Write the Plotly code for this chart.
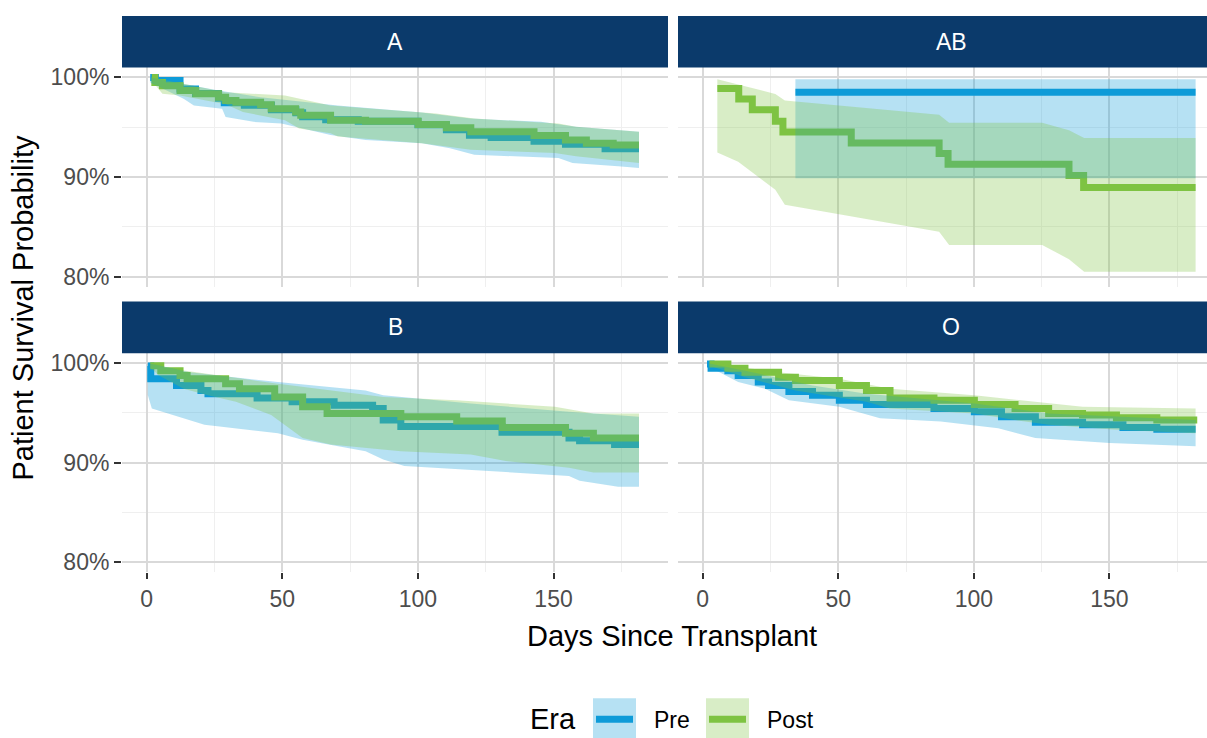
import plotly.graph_objects as go

# ---------------------------------------------------------------------------
# Kaplan-Meier survival (percent) by blood group and era, first 6 months
# ---------------------------------------------------------------------------
PANELS = ["A", "AB", "B", "O"]
ERAS = ["Pre", "Post"]
X_TICKS = [0, 50, 100, 150]
Y_TICKS = [80, 90, 100]
Y_TICK_LABELS = ["80%", "90%", "100%"]

# --- A ---------------------------------------------------------------------
A_PRE_DAYS = [1.3, 3.2, 12.3, 18.0, 26.5, 28.6, 36.0, 46.0, 55.0, 57.5, 66.0, 78.0,
              100.0, 110.5, 119.0, 127.0, 142.8, 154.4, 169.0, 181.5]
A_PRE_SURV = [100.0, 99.7, 98.85, 98.4, 97.9, 97.45, 97.2, 96.75, 96.45, 96.05, 95.75, 95.6,
              95.25, 94.75, 94.2, 93.96, 93.6, 93.3, 92.85, 92.85]
A_POST_DAYS = [1.9, 3.0, 5.8, 12.3, 18.1, 26.5, 29.1, 32.9, 42.0, 45.9, 54.9, 56.8, 67.8,
               80.7, 100.1, 110.5, 119.5, 142.8, 154.4, 162.1, 172.0, 181.5]
A_POST_SURV = [100.0, 99.5, 99.17, 98.68, 98.35, 98.02, 97.69, 97.52, 97.26, 96.86, 96.53, 96.2,
               95.71, 95.61, 95.28, 94.95, 94.55, 94.16, 93.73, 93.4, 93.23, 93.23]
A_PRE_UP_DAYS = [1.3, 12.3, 26.5, 42.0, 49.7, 70.4, 101.4, 119.5, 145.3, 158.3, 181.5]
A_PRE_UP = [100.0, 99.44, 98.68, 98.02, 97.79, 97.19, 96.47, 95.87, 95.54, 95.05, 94.55]
A_PRE_LO_DAYS = [1.3, 13.6, 17.4, 27.8, 29.1, 39.4, 49.7, 57.5, 67.8, 80.7, 101.4, 111.8,
                 120.8, 151.8, 157.0, 173.8, 181.5]
A_PRE_LO = [99.5, 97.85, 97.19, 96.86, 96.04, 95.54, 95.38, 94.88, 94.22, 93.73, 93.4, 92.9,
            92.24, 91.91, 91.42, 91.09, 90.92]
A_POST_UP_DAYS = [1.9, 29.1, 51.0, 67.8, 106.6, 120.8, 151.8, 158.3, 181.5]
A_POST_UP = [100.0, 98.51, 98.18, 97.19, 96.37, 95.87, 95.38, 95.05, 94.55]
A_POST_LO_DAYS = [1.9, 5.8, 12.3, 29.1, 35.5, 51.0, 56.2, 67.8, 70.4, 101.4, 119.5, 150.5,
                  158.3, 181.5]
A_POST_LO = [99.67, 98.35, 98.18, 97.3, 96.53, 95.71, 94.88, 94.39, 94.06, 93.4, 92.74, 92.41,
             92.08, 91.42]

# --- AB --------------------------------------------------------------------
AB_PRE_DAYS = [34.2, 181.8]
AB_PRE_SURV = [98.51, 98.51]
AB_POST_DAYS = [5.4, 13.3, 18.3, 26.8, 29.6, 54.8, 87.2, 90.5, 135.1, 140.5, 181.8]
AB_POST_SURV = [98.9, 97.84, 96.75, 95.59, 94.53, 93.43, 92.37, 91.28, 90.15, 88.96, 88.96]
AB_PRE_UP_DAYS = [34.2, 181.8]
AB_PRE_UP = [99.83, 99.83]
AB_PRE_LO_DAYS = [34.2, 181.8]
AB_PRE_LO = [89.88, 89.88]
AB_POST_UP_DAYS = [5.4, 26.8, 30.3, 87.2, 90.9, 125.2, 135.1, 140.7, 181.8]
AB_POST_UP = [99.83, 98.34, 97.68, 96.25, 95.46, 95.46, 94.69, 93.93, 93.93]
AB_POST_LO_DAYS = [5.4, 13.1, 26.8, 30.3, 87.2, 90.9, 125.2, 135.1, 140.7, 181.8]
AB_POST_LO = [92.47, 91.54, 88.72, 87.23, 84.51, 83.18, 83.18, 81.76, 80.5, 80.5]

# --- B ---------------------------------------------------------------------
B_PRE_DAYS = [0.4, 1.5, 11.0, 20.0, 22.6, 40.7, 53.6, 69.1, 83.3, 87.2, 93.7, 131.0, 155.7,
              159.6, 172.5, 181.5]
B_PRE_SURV = [99.7, 98.42, 97.76, 97.26, 96.93, 96.5, 96.11, 95.78, 95.45, 94.29, 93.63, 93.07,
              92.48, 92.21, 91.82, 91.82]
B_POST_DAYS = [1.3, 5.2, 12.3, 14.9, 29.1, 34.2, 47.2, 57.5, 66.5, 93.7, 114.3, 131.1, 154.4,
               164.7, 181.5]
B_POST_SURV = [99.74, 99.24, 98.75, 98.42, 97.92, 97.43, 96.6, 95.61, 94.95, 94.62, 94.19,
               93.53, 92.97, 92.48, 92.48]
B_PRE_UP_DAYS = [0.4, 16.0, 48.4, 80.7, 87.2, 119.5, 155.7, 181.5]
B_PRE_UP = [100.0, 99.08, 98.09, 97.26, 96.77, 95.94, 95.12, 94.62]
B_PRE_LO_DAYS = [0.4, 1.9, 21.3, 48.4, 57.5, 80.7, 87.2, 95.0, 155.7, 159.6, 173.8, 181.5]
B_PRE_LO = [96.8, 95.45, 93.8, 92.97, 92.31, 91.16, 90.33, 89.67, 88.68, 88.18, 87.59, 87.59]
B_POST_UP_DAYS = [1.3, 9.7, 35.5, 48.4, 87.2, 114.3, 150.5, 164.7, 181.5]
B_POST_UP = [100.0, 99.4, 98.42, 97.92, 96.6, 96.27, 95.61, 94.95, 94.95]
B_POST_LO_DAYS = [1.3, 4.5, 13.6, 22.6, 32.9, 45.9, 57.5, 67.8, 80.7, 93.7, 119.5, 132.4,
                  155.7, 164.7, 181.5]
B_POST_LO = [99.57, 98.75, 97.43, 96.77, 96.11, 94.79, 92.48, 91.82, 91.49, 91.16, 90.83,
             90.17, 89.5, 89.01, 89.01]

# --- O ---------------------------------------------------------------------
O_PRE_DAYS = [1.6, 3.1, 9.3, 13.1, 20.5, 24.3, 31.8, 40.5, 50.4, 60.4, 85.3, 100.2, 110.2,
              122.7, 140.1, 155.0, 167.5, 181.8]
O_PRE_SURV = [99.9, 99.47, 99.24, 98.75, 98.09, 97.76, 97.16, 96.77, 96.27, 95.84, 95.45,
              95.12, 94.62, 94.06, 93.8, 93.53, 93.35, 93.35]
O_POST_DAYS = [2.5, 9.3, 15.6, 28.0, 34.2, 50.4, 60.4, 69.1, 85.3, 100.2, 115.2, 127.6, 140.1,
               152.6, 167.5, 182.4]
O_POST_SURV = [99.9, 99.47, 99.08, 98.58, 98.25, 97.76, 97.26, 96.5, 96.27, 95.84, 95.45,
               94.95, 94.79, 94.52, 94.3, 94.3]
O_PRE_UP_DAYS = [1.6, 15.6, 40.5, 60.4, 100.2, 127.6, 181.8]
O_PRE_UP = [100.0, 99.24, 97.76, 96.93, 95.94, 94.95, 94.29]
O_PRE_LO_DAYS = [1.6, 13.1, 23.0, 31.8, 50.4, 65.4, 87.8, 109.0, 122.7, 150.1, 181.8]
O_PRE_LO = [99.74, 98.09, 97.43, 96.27, 95.61, 94.46, 94.13, 93.47, 92.48, 91.98, 91.65]
O_POST_UP_DAYS = [2.5, 28.0, 50.4, 69.1, 100.2, 127.6, 140.1, 181.8]
O_POST_UP = [100.0, 99.08, 98.42, 97.43, 96.77, 95.94, 95.61, 95.45]
O_POST_LO_DAYS = [2.5, 15.6, 34.2, 60.4, 69.1, 100.2, 115.2, 127.6, 152.6, 181.8]
O_POST_LO = [99.74, 98.58, 97.26, 96.11, 95.45, 94.95, 94.29, 93.8, 93.3, 92.97]

SERIES = {
    "A": {
        "Pre": (A_PRE_DAYS, A_PRE_SURV, A_PRE_UP_DAYS, A_PRE_UP, A_PRE_LO_DAYS, A_PRE_LO),
        "Post": (A_POST_DAYS, A_POST_SURV, A_POST_UP_DAYS, A_POST_UP, A_POST_LO_DAYS, A_POST_LO),
    },
    "AB": {
        "Pre": (AB_PRE_DAYS, AB_PRE_SURV, AB_PRE_UP_DAYS, AB_PRE_UP, AB_PRE_LO_DAYS, AB_PRE_LO),
        "Post": (AB_POST_DAYS, AB_POST_SURV, AB_POST_UP_DAYS, AB_POST_UP, AB_POST_LO_DAYS, AB_POST_LO),
    },
    "B": {
        "Pre": (B_PRE_DAYS, B_PRE_SURV, B_PRE_UP_DAYS, B_PRE_UP, B_PRE_LO_DAYS, B_PRE_LO),
        "Post": (B_POST_DAYS, B_POST_SURV, B_POST_UP_DAYS, B_POST_UP, B_POST_LO_DAYS, B_POST_LO),
    },
    "O": {
        "Pre": (O_PRE_DAYS, O_PRE_SURV, O_PRE_UP_DAYS, O_PRE_UP, O_PRE_LO_DAYS, O_PRE_LO),
        "Post": (O_POST_DAYS, O_POST_SURV, O_POST_UP_DAYS, O_POST_UP, O_POST_LO_DAYS, O_POST_LO),
    },
}

# ---------------------------------------------------------------------------
# Styling
# ---------------------------------------------------------------------------
W, H = 1207, 738
FONT = "Liberation Sans, Arial, Helvetica, sans-serif"
LINE_COLOR = {"Pre": "#0E9BD8", "Post": "#7EC342"}
FILL_COLOR = {"Pre": "rgba(14,155,216,0.3)", "Post": "rgba(126,195,66,0.3)"}
STRIP_COLOR = "#0B3A6B"
GRID_MAJOR = "#D9D9D9"
GRID_MINOR = "#EFEFEF"
TICK_TEXT = "#4D4D4D"
TITLE_SIZE = 29
TEXT_SIZE = 23


def px_x(px):
    return px / W


def px_y(py):
    return 1 - py / H


# panel boxes in pixels: (left, right), (top, bottom)
COL_X = [(122, 668), (678, 1207)]
ROW_Y = [(65, 286), (353, 574)]
X_RANGES = [[-9.1, 192.2], [-9.1, 186.0]]
Y_RANGE = [79.0, 101.0]

fig = go.Figure()
layout = dict(
    width=W, height=H,
    margin=dict(l=0, r=0, t=0, b=0),
    paper_bgcolor="white", plot_bgcolor="white",
    font=dict(family=FONT, color="black"),
    showlegend=False,
    shapes=[], annotations=[],
)

for i, name in enumerate(PANELS):
    row, col = divmod(i, 2)
    sfx = "" if i == 0 else str(i + 1)
    xa, ya = "x" + sfx, "y" + sfx
    (xl, xr), (yt, yb) = COL_X[col], ROW_Y[row]

    # survival steps first, confidence bands layered over them
    for era in ERAS:
        days, surv, *_ = SERIES[name][era]
        fig.add_trace(go.Scatter(
            x=days, y=surv, mode="lines", line=dict(color=LINE_COLOR[era], width=7, shape="hv"),
            xaxis=xa, yaxis=ya, hoverinfo="skip", name=era,
        ))
    for era in ERAS:
        _, _, up_d, up, lo_d, lo = SERIES[name][era]
        fig.add_trace(go.Scatter(
            x=list(up_d) + list(lo_d)[::-1], y=list(up) + list(lo)[::-1],
            mode="lines", fill="toself", fillcolor=FILL_COLOR[era], line=dict(width=0),
            xaxis=xa, yaxis=ya, hoverinfo="skip", name=era,
        ))

    bottom = row == 1
    left = col == 0
    layout["xaxis" + sfx] = dict(
        domain=[px_x(xl), px_x(xr)], anchor=ya, range=X_RANGES[col],
        tickmode="array", tickvals=X_TICKS,
        showgrid=True, gridcolor=GRID_MAJOR, gridwidth=2,
        minor=dict(tickvals=[25, 75, 125, 175], showgrid=True, gridcolor=GRID_MINOR, gridwidth=1),
        zeroline=False, showline=False,
        showticklabels=bottom, ticks="outside" if bottom else "",
        ticklen=6, tickwidth=2, tickcolor="#333333",
        tickfont=dict(size=TEXT_SIZE, color=TICK_TEXT, family=FONT),
    )
    layout["yaxis" + sfx] = dict(
        domain=[px_y(yb), px_y(yt)], anchor=xa, range=Y_RANGE,
        tickmode="array", tickvals=Y_TICKS, ticktext=Y_TICK_LABELS,
        showgrid=True, gridcolor=GRID_MAJOR, gridwidth=2,
        minor=dict(tickvals=[85, 95], showgrid=True, gridcolor=GRID_MINOR, gridwidth=1),
        zeroline=False, showline=False,
        showticklabels=left, ticks="outside" if left else "",
        ticklen=7, tickwidth=2, tickcolor="#333333",
        tickfont=dict(size=TEXT_SIZE, color=TICK_TEXT, family=FONT),
    )

    # facet strip
    st_top, st_bot = yt - 52, yt
    layout["shapes"].append(dict(
        type="rect", xref="paper", yref="paper",
        x0=px_x(xl), x1=px_x(xr), y0=px_y(st_bot), y1=px_y(st_top),
        fillcolor=STRIP_COLOR, line=dict(width=0), layer="above",
    ))
    layout["annotations"].append(dict(
        text=name, xref="paper", yref="paper",
        x=px_x(xl + 273), y=px_y((st_top + st_bot) / 2),
        xanchor="center", yanchor="middle", showarrow=False,
        font=dict(size=TEXT_SIZE, color="white", family=FONT),
    ))

# axis titles
layout["annotations"].append(dict(
    text="Days Since Transplant", xref="paper", yref="paper",
    x=px_x(672), y=px_y(638), xanchor="center", yanchor="middle", showarrow=False,
    font=dict(size=TITLE_SIZE, color="black", family=FONT),
))
layout["annotations"].append(dict(
    text="Patient Survival Probability", xref="paper", yref="paper",
    x=px_x(23), y=px_y(308), xanchor="center", yanchor="middle", showarrow=False,
    textangle=-90, font=dict(size=TITLE_SIZE, color="black", family=FONT),
))

# legend: "Era" with one key per era
layout["annotations"].append(dict(
    text="Era", xref="paper", yref="paper", x=px_x(528), y=px_y(722),
    xanchor="left", yanchor="middle", showarrow=False,
    font=dict(size=TITLE_SIZE, color="black", family=FONT),
))
KEY_LEFT = {"Pre": 593, "Post": 706}
for era in ERAS:
    k = KEY_LEFT[era]
    layout["shapes"].append(dict(
        type="rect", xref="paper", yref="paper",
        x0=px_x(k), x1=px_x(k + 43), y0=px_y(743), y1=px_y(701),
        fillcolor=FILL_COLOR[era], line=dict(width=0),
    ))
    layout["shapes"].append(dict(
        type="line", xref="paper", yref="paper",
        x0=px_x(k + 3), x1=px_x(k + 40), y0=px_y(722), y1=px_y(722),
        line=dict(color=LINE_COLOR[era], width=7),
    ))
    layout["annotations"].append(dict(
        text=era, xref="paper", yref="paper", x=px_x(k + 59), y=px_y(723),
        xanchor="left", yanchor="middle", showarrow=False,
        font=dict(size=TEXT_SIZE, color="black", family=FONT),
    ))

fig.update_layout(**layout)
fig.write_html("out.html")
